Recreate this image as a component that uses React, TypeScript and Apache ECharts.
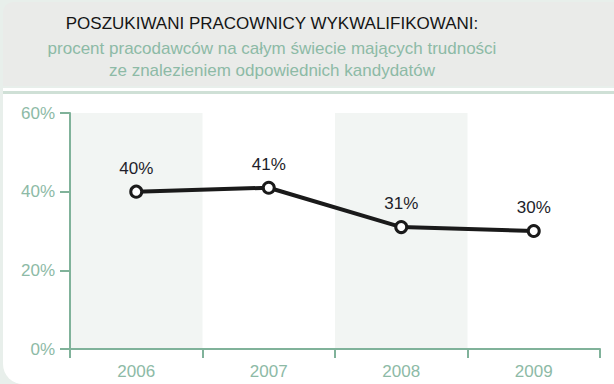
import React, { useEffect, useRef } from "react";
import * as echarts from "echarts";

const years = ["2006", "2007", "2008", "2009"];
const values = [40, 41, 31, 30];
const titleText = "POSZUKIWANI PRACOWNICY WYKWALIFIKOWANI:";
const subtitleLines = [
  "procent pracodawców na całym świecie mających trudności",
  "ze znalezieniem odpowiednich kandydatów",
];

const GREEN = "#80b29a";
const LABEL_GREEN = "#8dbaa6";

export default function App() {
  const ref = useRef<HTMLDivElement>(null);
  useEffect(() => {
    if (!ref.current) return;
    const chart = echarts.init(ref.current, null, { renderer: "svg" });
    chart.setOption({
      animation: false,
      backgroundColor: "#e8efeb",
      graphic: [
        { type: "rect", z: -10, shape: { x: 3, y: 2, width: 611, height: 84, r: [10, 0, 0, 0] }, style: { fill: "#eaebe9" } },
        { type: "rect", z: -10, shape: { x: 3, y: 88, width: 611, height: 296, r: [0, 0, 0, 20] }, style: { fill: "#ffffff" } },
        { type: "rect", z: -9, shape: { x: 3, y: 91, width: 611, height: 3 }, style: { fill: "#cfe0d6" } },
        {
          type: "text", x: 272, y: 23,
          style: { text: titleText, fill: "#151515", font: "17px 'Liberation Sans', Arial, sans-serif", textAlign: "center", textVerticalAlign: "middle" },
        },
        {
          type: "text", x: 272, y: 48,
          style: { text: subtitleLines[0], fill: LABEL_GREEN, font: "17px 'Liberation Sans', Arial, sans-serif", textAlign: "center", textVerticalAlign: "middle" },
        },
        {
          type: "text", x: 272, y: 70,
          style: { text: subtitleLines[1], fill: LABEL_GREEN, font: "17px 'Liberation Sans', Arial, sans-serif", textAlign: "center", textVerticalAlign: "middle" },
        },
      ],
      grid: { left: 70, right: 14, top: 113, bottom: 35 },
      xAxis: {
        type: "category",
        data: years,
        boundaryGap: true,
        axisLine: { show: true, lineStyle: { color: GREEN, width: 2 } },
        axisTick: { show: true, length: 9, lineStyle: { color: GREEN, width: 2 } },
        axisLabel: { color: LABEL_GREEN, fontSize: 17, fontFamily: "Liberation Sans", margin: 14 },
        splitLine: { show: false },
        splitArea: { show: true, areaStyle: { color: ["#f2f5f3", "rgba(255,255,255,0)"] } },
      },
      yAxis: {
        type: "value",
        min: 0,
        max: 60,
        interval: 20,
        axisLine: { show: true, lineStyle: { color: GREEN, width: 2 } },
        axisTick: { show: true, length: 10, lineStyle: { color: GREEN, width: 2 } },
        axisLabel: { color: LABEL_GREEN, fontSize: 17, fontFamily: "Liberation Sans", margin: 15, formatter: "{value}%" },
        splitLine: { show: false },
      },
      series: [
        {
          type: "line",
          data: values,
          symbol: "circle",
          symbolSize: 11,
          lineStyle: { color: "#1a1a1a", width: 4 },
          itemStyle: { color: "#ffffff", borderColor: "#1a1a1a", borderWidth: 3 },
          label: {
            show: true,
            position: "top",
            distance: 8,
            formatter: "{c}%",
            color: "#1e1e2a",
            fontSize: 17,
            fontFamily: "Liberation Sans",
          },
        },
      ],
    });
    return () => chart.dispose();
  }, []);
  return <div ref={ref} style={{ position: "fixed", left: 0, top: 0, width: 614, height: 384 }} />;
}
